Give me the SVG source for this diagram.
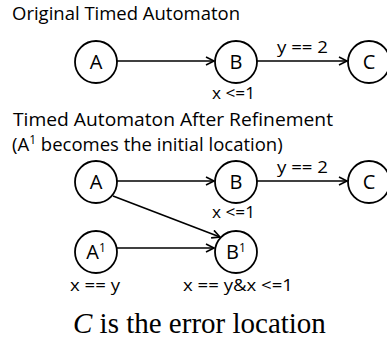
<svg xmlns="http://www.w3.org/2000/svg" width="387" height="345" viewBox="0 0 387 345">
<defs>
<marker id="arr" markerWidth="12" markerHeight="12" refX="9" refY="5" orient="auto" markerUnits="userSpaceOnUse">
<path d="M1,1 L9,5 L1,9" fill="none" stroke="#000" stroke-width="1.6"/>
</marker>
</defs>
<style>
.t{font-family:"Open Sans","Liberation Sans",sans-serif;fill:#000}
.title{font-size:18.5px}
.lbl{font-size:17px}
.node circle{fill:#fff;stroke:#000;stroke-width:1.8}
.node text{font-family:"Open Sans","Liberation Sans",sans-serif;font-size:20px;text-anchor:middle}
.edge{stroke:#000;stroke-width:1.6;fill:none;marker-end:url(#arr)}
.cap{font-family:"Liberation Serif","Times New Roman",serif;font-size:29px}
</style>
<rect width="387" height="345" fill="#fff"/>
<text class="t title" x="12" y="20" textLength="228" lengthAdjust="spacingAndGlyphs">Original Timed Automaton</text>
<text class="t title" x="13" y="126" textLength="320" lengthAdjust="spacingAndGlyphs">Timed Automaton After Refinement</text>
<text class="t title" x="12" y="151">(A<tspan font-size="12" dy="-7">1</tspan><tspan dy="7"> becomes the initial location)</tspan></text>

<g id="connectors">
<line class="edge" x1="117" y1="61" x2="214" y2="61"/>
<line class="edge" x1="257" y1="61" x2="347" y2="61"/>
<line class="edge" x1="117" y1="181" x2="214" y2="181"/>
<line class="edge" x1="257" y1="181" x2="347" y2="181"/>
<line class="edge" x1="113" y1="196" x2="220" y2="237"/>
<line class="edge" x1="117" y1="248" x2="214" y2="248"/>
</g>

<g id="labels">
<text class="t lbl" x="277" y="53" textLength="51" lengthAdjust="spacingAndGlyphs">y == 2</text>
<text class="t lbl" x="212" y="99" textLength="43" lengthAdjust="spacingAndGlyphs">x &lt;=1</text>
<text class="t lbl" x="277" y="173" textLength="51" lengthAdjust="spacingAndGlyphs">y == 2</text>
<text class="t lbl" x="212" y="218" textLength="43" lengthAdjust="spacingAndGlyphs">x &lt;=1</text>
<text class="t lbl" x="70" y="291" textLength="50" lengthAdjust="spacingAndGlyphs">x == y</text>
<text class="t lbl" x="183" y="291" textLength="110" lengthAdjust="spacingAndGlyphs">x == y&amp;x &lt;=1</text>
</g>

<g id="A" class="node"><circle cx="96" cy="62" r="21"/><text x="96" y="69">A</text></g>
<g id="B" class="node"><circle cx="236" cy="62" r="21"/><text x="236" y="69">B</text></g>
<g id="C" class="node"><circle cx="369" cy="62" r="21"/><text x="369" y="69">C</text></g>
<g id="A2" class="node"><circle cx="96" cy="182" r="21"/><text x="96" y="189">A</text></g>
<g id="B2" class="node"><circle cx="236" cy="182" r="21"/><text x="236" y="189">B</text></g>
<g id="C2" class="node"><circle cx="369" cy="182" r="21"/><text x="369" y="189">C</text></g>
<g id="A1" class="node"><circle cx="96" cy="252" r="21"/><text x="96" y="259">A<tspan font-size="12" dy="-7">1</tspan></text></g>
<g id="B1" class="node"><circle cx="236" cy="252" r="21"/><text x="236" y="259">B<tspan font-size="12" dy="-7">1</tspan></text></g>

<text class="cap" x="73" y="333"><tspan font-style="italic">C</tspan> is the error location</text>
</svg>
